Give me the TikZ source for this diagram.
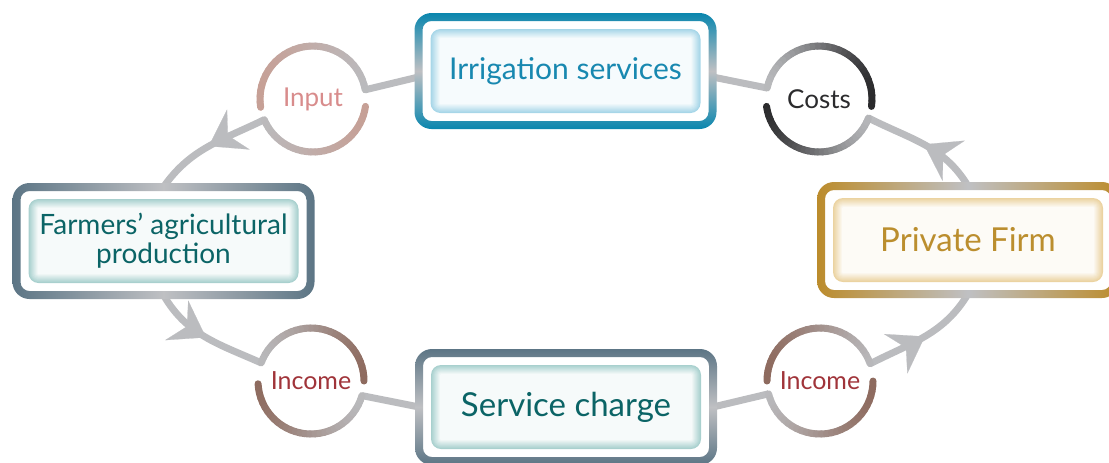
\documentclass[tikz,border=0pt]{standalone}
\usepackage{fontspec}
\setmainfont{Lato}
\usetikzlibrary{arrows.meta,decorations.markings,calc,positioning}
\newcommand{\myunit}{0.5pt}
\newcommand{\ringr}{26.5pt}
\definecolor{linkgray}{HTML}{BBBCBF}
\definecolor{ringgray}{HTML}{BFC0C3}
\definecolor{arcgray}{HTML}{BABBBE}
\definecolor{irrblue}{HTML}{0A86AE}
\definecolor{slate}{HTML}{5C7585}
\definecolor{firmgold}{HTML}{BC8C2C}
\definecolor{irrglow}{HTML}{A6D6E8}
\definecolor{tealglow}{HTML}{A8D0CE}
\definecolor{goldglow}{HTML}{EBD3A0}
\definecolor{irrtext}{HTML}{1888B0}
\definecolor{tealtext}{HTML}{0B6466}
\definecolor{firmtext}{HTML}{BB8E2E}
\definecolor{inputtext}{HTML}{D88C8C}
\definecolor{coststext}{HTML}{2B2B2D}
\definecolor{incometext}{HTML}{A0343A}
\definecolor{inputrose}{HTML}{C6A096}
\definecolor{costsdark}{HTML}{2A2A2C}
\definecolor{incbrown}{HTML}{8E6B5F}
\pgfdeclarelayer{linklayer}
\pgfdeclarelayer{panellayer}
\pgfsetlayers{linklayer,panellayer,main}
\tikzset{
    boxsty/.style={rectangle,minimum width=147pt,minimum height=54pt,inner sep=0pt,outer sep=0pt,align=center,font=\fontsize{15}{16}\selectfont},
    farmsty/.style={font=\fontsize{14}{14.5}\selectfont},
    bigsty/.style={font=\fontsize{16.5}{18}\selectfont},
    circsty/.style={circle,minimum size=53pt,inner sep=0pt,outer sep=0pt,font=\fontsize{13}{14}\selectfont},
    incsty/.style={font=\fontsize{12.5}{14}\selectfont},
    arcsty/.style={line width=3.5pt,line cap=round},
    linksty/.style={draw=linkgray,line width=3.5pt},
    arrsty/.style={linksty,postaction={decorate},
        decoration={markings,mark=at position 0.5 with {\arrow[linkgray]{Stealth[length=17pt,width=23pt,inset=6pt,line width=0.1pt]}}}},
}
% ring and glowing panel round a box node
\newcommand{\ringbox}[3]{%
  \begin{pgfonlayer}{panellayer}
  \shade[even odd rule,#2,rounded corners=8.5pt] ($(#1.south west)+(-4,-4)$) rectangle ($(#1.north east)+(4,4)$)
      [rounded corners=4.5pt] ($(#1.south west)+(4,4)$) rectangle ($(#1.north east)+(-4,-4)$);
  \foreach \k in {0,...,9}{
    \pgfmathsetmacro{\glow}{100-\k*10}
    \pgfmathsetmacro{\rr}{max(10-\k,1)*0.5}
    \fill[#3!\glow!white,rounded corners=\rr pt] ($(#1.south west)+(12+\k,12+\k)$) rectangle ($(#1.north east)-(12+\k,12+\k)$);
  }
  \end{pgfonlayer}}
% arc of a circle node, coloured from left to right
\newcommand{\gradarc}[5]{%
  \foreach \i in {0,...,29}{
    \pgfmathsetmacro{\a}{#2+(#3-#2)*\i/30}
    \pgfmathsetmacro{\b}{#2+(#3-#2)*(\i+1)/30}
    \pgfmathsetmacro{\mix}{50*(1-cos((\a+\b)/2))}
    \draw[arcsty,#4!\mix!#5] (#1.center) ++(\a:\ringr) arc[start angle=\a,end angle=\b,radius=\ringr];
  }}

\begin{document}
\begin{tikzpicture}[x=\myunit,y=\myunit]
  \useasboundingbox (0,0) rectangle (1109,-462);
  \clip (0,0) rectangle (1109,-462);

  % boxes
  \node[boxsty,text=irrtext] (irr) at (565.5,-71) {Irrigation services};
  \node[boxsty,farmsty,text=tealtext] (farm) at (163.5,-241) {Farmers’ agricultural\\production};
  \node[boxsty,bigsty,text=firmtext] (firm) at (968,-240) {Private Firm};
  \node[boxsty,bigsty,text=tealtext] (serv) at (566,-407) {Service charge};

  % circles
  \node[circsty,text=inputtext] (input) at (313,-99) {Input};
  \node[circsty,text=coststext] (costs) at (819,-99) {Costs};
  \node[circsty,incsty,text=incometext] (incl) at (311,-381) {Income};
  \node[circsty,incsty,text=incometext] (incr) at (820,-381) {Income};

  \ringbox{irr}{top color=irrblue,bottom color=irrblue,middle color=ringgray}{irrglow}
  \ringbox{farm}{left color=slate,right color=slate,middle color=ringgray}{tealglow}
  \ringbox{firm}{left color=firmgold,right color=firmgold,middle color=ringgray}{goldglow}
  \ringbox{serv}{top color=slate,bottom color=slate,middle color=ringgray}{tealglow}

  \begin{pgfonlayer}{panellayer}
  \gradarc{input}{10}{189}{inputrose}{arcgray}
  \gradarc{input}{203}{352}{arcgray}{inputrose}
  \gradarc{costs}{-8}{168}{arcgray}{costsdark}
  \gradarc{costs}{188}{339}{costsdark}{arcgray}
  \gradarc{incl}{0}{160}{arcgray}{incbrown}
  \gradarc{incl}{183}{344}{incbrown}{arcgray}
  \gradarc{incr}{19}{180}{incbrown}{arcgray}
  \gradarc{incr}{194}{360}{arcgray}{incbrown}
  \end{pgfonlayer}

  % links
  \begin{pgfonlayer}{linklayer}
  \draw[linksty] ([yshift=-3pt]irr.west) -- (input.10);
  \draw[arrsty] (input.203) to[out=206,in=55] (farm.north);
  \draw[arrsty] (farm.south) to[out=300,in=156] (incl.160);
  \draw[linksty] (incl.344) -- (serv.west);
  \draw[linksty] (serv.east) -- (incr.194);
  \draw[arrsty] (incr.19) to[out=27,in=239] (firm.south);
  \draw[arrsty] (firm.north) to[out=121,in=333] (costs.339);
  \draw[linksty] (costs.168) -- ([yshift=-3pt]irr.east);
  \end{pgfonlayer}
\end{tikzpicture}
\end{document}
